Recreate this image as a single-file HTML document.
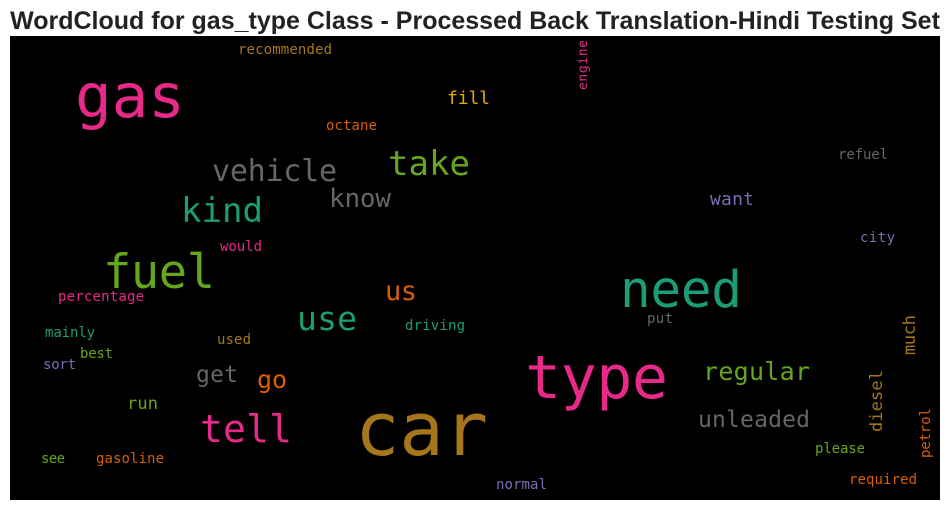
<!DOCTYPE html>
<html><head><meta charset="utf-8"><style>
html,body{margin:0;padding:0;background:#fff;width:950px;height:511px;overflow:hidden}
svg text{font-family:"DejaVu Sans Mono",monospace}
</style></head><body>
<svg width="950" height="511" xmlns="http://www.w3.org/2000/svg">
<text x="475" y="29" text-anchor="middle" style="font-family:'Liberation Sans',Arial,sans-serif;font-weight:bold;font-size:25px" fill="#222">WordCloud for gas_type Class - Processed Back Translation-Hindi Testing Set</text>
<rect x="10" y="36" width="930" height="464" fill="#000"/>
<g>
<text x="75" y="117" font-size="61" fill="#e7298a" textLength="110">gas</text>
<text x="355" y="455" font-size="74" fill="#a6761d" textLength="133">car</text>
<text x="525" y="398" font-size="60" fill="#e7298a" textLength="143">type</text>
<text x="620" y="307" font-size="51" fill="#1b9e77" textLength="122">need</text>
<text x="103" y="288" font-size="47" fill="#66a61e" textLength="112">fuel</text>
<text x="200" y="442" font-size="38" fill="#e7298a" textLength="92">tell</text>
<text x="388" y="175" font-size="34" fill="#66a61e" textLength="82">take</text>
<text x="212" y="181" font-size="30" fill="#666666" textLength="125">vehicle</text>
<text x="181" y="222" font-size="34" fill="#1b9e77" textLength="82">kind</text>
<text x="297" y="330" font-size="33" fill="#1b9e77" textLength="60">use</text>
<text x="329" y="207" font-size="26" fill="#666666" textLength="62">know</text>
<text x="698" y="427" font-size="23" fill="#666666" textLength="112">unleaded</text>
<text x="703" y="380" font-size="25" fill="#66a61e" textLength="107">regular</text>
<text x="385" y="300" font-size="27" fill="#d95f02" textLength="32">us</text>
<text x="257" y="388" font-size="25" fill="#d95f02" textLength="30">go</text>
<text x="196" y="382" font-size="23" fill="#666666" textLength="42">get</text>
<text x="447" y="104" font-size="18" fill="#e6ab02" textLength="43">fill</text>
<text x="710" y="205" font-size="18" fill="#7570b3" textLength="44">want</text>
<text x="326" y="130" font-size="14" fill="#d95f02" textLength="51">octane</text>
<text x="238" y="54" font-size="14" fill="#a6761d" textLength="94">recommended</text>
<text x="838" y="159" font-size="14" fill="#666666" textLength="50">refuel</text>
<text x="860" y="242" font-size="14" fill="#7570b3" textLength="35">city</text>
<text x="220" y="251" font-size="14" fill="#e7298a" textLength="42">would</text>
<text x="58" y="301" font-size="14" fill="#e7298a" textLength="86">percentage</text>
<text x="45" y="337" font-size="14" fill="#1b9e77" textLength="50">mainly</text>
<text x="80" y="358" font-size="14" fill="#66a61e" textLength="33">best</text>
<text x="43" y="369" font-size="14" fill="#7570b3" textLength="33">sort</text>
<text x="217" y="344" font-size="14" fill="#a6761d" textLength="34">used</text>
<text x="405" y="330" font-size="14" fill="#1b9e77" textLength="60">driving</text>
<text x="647" y="323" font-size="14" fill="#666666" textLength="26">put</text>
<text x="127" y="409" font-size="17" fill="#66a61e" textLength="31">run</text>
<text x="41" y="463" font-size="14" fill="#66a61e" textLength="24">see</text>
<text x="96" y="463" font-size="14" fill="#d95f02" textLength="68">gasoline</text>
<text x="815" y="453" font-size="14" fill="#66a61e" textLength="50">please</text>
<text x="849" y="484" font-size="14" fill="#d95f02" textLength="68">required</text>
<text x="496" y="489" font-size="14" fill="#7570b3" textLength="51">normal</text>
<text transform="translate(587,90) rotate(-90)" font-size="13" fill="#e7298a" textLength="50">engine</text>
<text transform="translate(915,355) rotate(-90)" font-size="17" fill="#a6761d" textLength="40">much</text>
<text transform="translate(882,432) rotate(-90)" font-size="17" fill="#a6761d" textLength="62">diesel</text>
<text transform="translate(930,458) rotate(-90)" font-size="14" fill="#d95f02" textLength="50">petrol</text>
</g>
</svg>
</body></html>
